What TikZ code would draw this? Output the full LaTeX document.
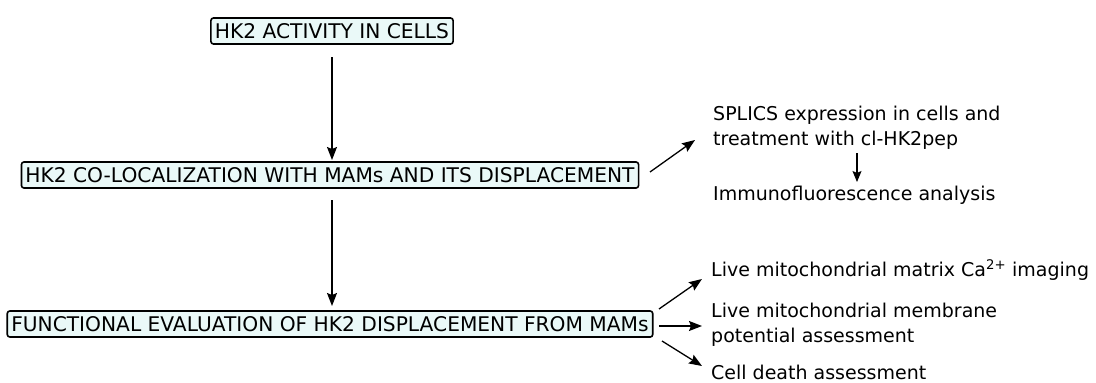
\documentclass[tikz,border=0pt]{standalone}
\usepackage{fontspec}
\setmainfont{DejaVu Sans}
\usetikzlibrary{arrows.meta}
\definecolor{boxfill}{HTML}{EAF9F8}
\tikzset{
  stagebox/.style={draw=black, line width=1.6pt, fill=boxfill, rounded corners=2.5pt,
    font=\fontsize{20.2}{24}\selectfont, inner xsep=4pt, inner ysep=3pt, minimum height=26pt},
  note/.style={font=\fontsize{19}{25}\selectfont, align=left, anchor=west, inner sep=0pt},
  arr/.style={line width=1.3pt, -{Stealth[length=13pt,width=10pt,inset=2pt]}},
  sarr/.style={line width=1.1pt, -{Stealth[length=11pt,width=9pt,inset=2pt]}}
}
\begin{document}
\begin{tikzpicture}[x=1pt,y=-1pt]
\useasboundingbox (0,0) rectangle (1096,383);
\node[stagebox] (b1) at (332,31) {HK2 ACTIVITY IN CELLS};
\node[stagebox] (b2) at (330,175) {HK2 CO-LOCALIZATION WITH MAMs AND ITS DISPLACEMENT};
\node[stagebox] (b3) at (330,324) {FUNCTIONAL EVALUATION OF HK2 DISPLACEMENT FROM MAMs};
\coordinate (a1s) at (332,57);
\coordinate (a1e) at (332,160);
\coordinate (a2s) at (332,200);
\coordinate (a2e) at (332,306);
\draw[arr] (a1s) -- (a1e);
\draw[arr] (a2s) -- (a2e);
\node[note] (s1) at (713,128) {SPLICS expression in cells and\\treatment with cl-HK2pep};
\node[note] (s2) at (713,195) {Immunofluorescence analysis};
\coordinate (c1) at (650,172);
\coordinate (c2) at (695,140);
\draw[arr] (c1) -- (c2);
\coordinate (d1) at (857,153);
\coordinate (d2) at (857,182);
\draw[sarr] (d1) -- (d2);
\node[note] (f1) at (711,270) {Live mitochondrial matrix Ca\textsuperscript{2+} imaging};
\node[note] (f2) at (711,325) {Live mitochondrial membrane\\potential assessment};
\node[note] (f3) at (711,372) {Cell death assessment};
\coordinate (e1) at (659,309);
\coordinate (e2) at (702,279);
\coordinate (e3) at (659,326);
\coordinate (e4) at (702,326);
\coordinate (e5) at (662,341);
\coordinate (e6) at (702,366);
\draw[arr] (e1) -- (e2);
\draw[arr] (e3) -- (e4);
\draw[arr] (e5) -- (e6);
\end{tikzpicture}
\end{document}
